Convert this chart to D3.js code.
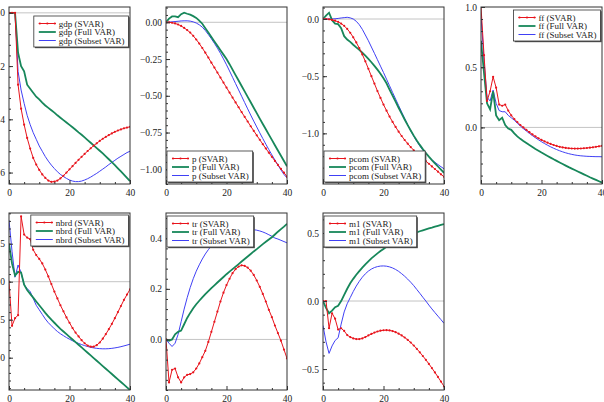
<!DOCTYPE html>
<html>
<head>
<meta charset="utf-8">
<script src="https://cdn.jsdelivr.net/npm/d3@7"></script>
<style>
body { margin: 0; background: #fff; }
svg { display: block; }
</style>
</head>
<body>
<div id="chart"></div>
<script>
// horizons 0..40
var horizons = [0,1,2,3,4,5,6,7,8,9,10,11,12,13,14,15,16,17,18,19,20,
	21,22,23,24,25,26,27,28,29,30,31,32,33,34,35,36,37,38,39,40];

var seriesNames = ["SVAR", "Full VAR", "Subset VAR"];

var gdpSvar = [0,0,0,-0.27,-0.36,-0.42,-0.47,-0.51,-0.545,-0.57,-0.59,-0.607,-0.62,-0.63,-0.635,-0.634,-0.63,-0.622,-0.612,-0.6,-0.588,-0.576,-0.564,-0.552,-0.541,-0.53,-0.519,-0.509,-0.499,-0.49,-0.481,-0.473,-0.466,-0.459,-0.453,-0.447,-0.442,-0.438,-0.434,-0.431,-0.428];
var gdpFull = [0,0,0,-0.15,-0.2,-0.22,-0.27,-0.285,-0.3,-0.315,-0.325,-0.337,-0.348,-0.357,-0.366,-0.375,-0.385,-0.394,-0.403,-0.412,-0.421,-0.43,-0.439,-0.449,-0.458,-0.468,-0.478,-0.488,-0.498,-0.508,-0.518,-0.528,-0.539,-0.55,-0.561,-0.572,-0.584,-0.596,-0.608,-0.62,-0.632];
var gdpSubset = [0,0,0,-0.22,-0.29,-0.34,-0.385,-0.42,-0.45,-0.475,-0.5,-0.52,-0.54,-0.557,-0.572,-0.585,-0.597,-0.607,-0.615,-0.622,-0.628,-0.632,-0.634,-0.634,-0.632,-0.628,-0.623,-0.617,-0.61,-0.603,-0.595,-0.587,-0.579,-0.57,-0.562,-0.554,-0.546,-0.539,-0.532,-0.525,-0.52];

var pSvar = [0,0,-0.003,-0.008,-0.015,-0.025,-0.038,-0.053,-0.07,-0.092,-0.117,-0.145,-0.175,-0.207,-0.24,-0.275,-0.308,-0.342,-0.376,-0.41,-0.444,-0.478,-0.512,-0.545,-0.578,-0.611,-0.643,-0.675,-0.707,-0.738,-0.769,-0.799,-0.829,-0.858,-0.887,-0.915,-0.943,-0.97,-0.997,-1.023,-1.05];
var pFull = [0,0.025,0.04,0.04,0.035,0.055,0.065,0.058,0.052,0.042,0.03,0.012,-0.01,-0.04,-0.07,-0.1,-0.13,-0.16,-0.19,-0.22,-0.25,-0.285,-0.322,-0.359,-0.396,-0.433,-0.47,-0.507,-0.544,-0.581,-0.618,-0.655,-0.692,-0.728,-0.764,-0.8,-0.836,-0.872,-0.908,-0.944,-0.98];
var pSubset = [0,0.001,0.003,0.005,0.007,0.009,0.01,0.01,0.008,0.003,-0.005,-0.017,-0.033,-0.056,-0.083,-0.112,-0.143,-0.176,-0.211,-0.249,-0.289,-0.331,-0.374,-0.417,-0.46,-0.503,-0.546,-0.589,-0.631,-0.672,-0.712,-0.752,-0.791,-0.829,-0.866,-0.902,-0.937,-0.971,-1.004,-1.035,-1.058];

var pcomSvar = [0,0,-0.003,-0.008,-0.015,-0.025,-0.04,-0.06,-0.087,-0.12,-0.16,-0.205,-0.255,-0.31,-0.37,-0.435,-0.5,-0.565,-0.63,-0.69,-0.748,-0.802,-0.853,-0.9,-0.944,-0.985,-1.023,-1.058,-1.09,-1.12,-1.148,-1.174,-1.198,-1.22,-1.243,-1.266,-1.289,-1.312,-1.335,-1.358,-1.38];
var pcomFull = [0,0.03,0.055,-0.01,-0.04,-0.045,-0.08,-0.15,-0.18,-0.2,-0.225,-0.248,-0.27,-0.295,-0.32,-0.348,-0.378,-0.41,-0.443,-0.478,-0.518,-0.562,-0.617,-0.67,-0.723,-0.776,-0.828,-0.879,-0.928,-0.975,-1.02,-1.062,-1.101,-1.138,-1.172,-1.204,-1.234,-1.262,-1.29,-1.318,-1.345];
var pcomSubset = [0,0,0,0,0.002,0.005,0.009,0.012,0.015,0.01,0,-0.02,-0.05,-0.09,-0.14,-0.19,-0.245,-0.3,-0.356,-0.412,-0.468,-0.526,-0.584,-0.642,-0.7,-0.757,-0.814,-0.87,-0.925,-0.977,-1.026,-1.07,-1.11,-1.146,-1.178,-1.206,-1.231,-1.253,-1.273,-1.292,-1.31];

var ffSvar = [1.0,0.6,0.22,0.3,0.42,0.33,0.19,0.18,0.19,0.14,0.1,0.07,0.045,0.02,0.0,-0.02,-0.04,-0.058,-0.075,-0.09,-0.104,-0.116,-0.127,-0.137,-0.146,-0.154,-0.161,-0.166,-0.17,-0.173,-0.175,-0.176,-0.176,-0.175,-0.173,-0.171,-0.168,-0.165,-0.161,-0.157,-0.153];
var ffFull = [0.72,0.45,0.2,0.15,0.3,0.1,0.06,0.08,0.02,-0.01,-0.02,-0.05,-0.075,-0.095,-0.113,-0.13,-0.147,-0.163,-0.179,-0.194,-0.209,-0.223,-0.237,-0.251,-0.265,-0.278,-0.291,-0.304,-0.317,-0.33,-0.342,-0.354,-0.366,-0.378,-0.39,-0.402,-0.414,-0.425,-0.436,-0.447,-0.458];
var ffSubset = [0.93,0.55,0.25,0.22,0.31,0.2,0.14,0.13,0.13,0.1,0.08,0.06,0.035,0.012,-0.01,-0.03,-0.05,-0.068,-0.086,-0.103,-0.119,-0.134,-0.148,-0.161,-0.173,-0.184,-0.194,-0.203,-0.211,-0.218,-0.224,-0.229,-0.233,-0.236,-0.238,-0.24,-0.241,-0.242,-0.243,-0.243,-0.244];

var nbrdSvar = [0,-0.58,-0.48,-0.44,0.86,0.62,0.58,0.56,0.42,0.35,0.3,0.24,0.16,0.07,-0.03,-0.13,-0.22,-0.31,-0.39,-0.47,-0.54,-0.61,-0.67,-0.72,-0.77,-0.81,-0.84,-0.855,-0.855,-0.835,-0.8,-0.75,-0.69,-0.625,-0.555,-0.48,-0.4,-0.32,-0.24,-0.17,-0.1];
var nbrdFull = [0.5,0.24,0.08,0.13,0.12,-0.04,-0.11,-0.16,-0.21,-0.26,-0.31,-0.36,-0.41,-0.455,-0.5,-0.54,-0.58,-0.62,-0.655,-0.69,-0.725,-0.76,-0.795,-0.83,-0.865,-0.9,-0.935,-0.97,-1.005,-1.04,-1.075,-1.11,-1.145,-1.18,-1.215,-1.25,-1.285,-1.32,-1.355,-1.39,-1.425];
var nbrdSubset = [0.81,0.4,0.06,0.22,0.12,-0.04,-0.09,-0.13,-0.22,-0.31,-0.37,-0.43,-0.49,-0.54,-0.58,-0.62,-0.655,-0.685,-0.71,-0.735,-0.757,-0.777,-0.795,-0.812,-0.827,-0.841,-0.853,-0.863,-0.871,-0.877,-0.881,-0.883,-0.883,-0.881,-0.877,-0.871,-0.864,-0.855,-0.845,-0.834,-0.822];

var trSvar = [0,-0.17,-0.12,-0.115,-0.15,-0.17,-0.15,-0.14,-0.137,-0.13,-0.115,-0.095,-0.07,-0.045,-0.01,0.03,0.07,0.11,0.15,0.185,0.215,0.24,0.262,0.278,0.288,0.293,0.291,0.284,0.272,0.255,0.233,0.208,0.18,0.15,0.117,0.088,0.055,0.025,-0.005,-0.04,-0.075];
var trFull = [0,-0.005,0.0,0.02,0.03,0.035,0.06,0.085,0.105,0.123,0.139,0.153,0.166,0.179,0.191,0.203,0.214,0.225,0.236,0.247,0.258,0.268,0.278,0.288,0.298,0.308,0.318,0.328,0.338,0.348,0.357,0.367,0.377,0.386,0.395,0.404,0.415,0.426,0.436,0.446,0.457];
var trSubset = [0,-0.015,-0.028,-0.015,0.02,0.07,0.12,0.165,0.205,0.24,0.27,0.295,0.318,0.338,0.355,0.37,0.383,0.394,0.403,0.411,0.418,0.424,0.429,0.432,0.434,0.435,0.436,0.436,0.435,0.434,0.432,0.429,0.425,0.42,0.414,0.408,0.401,0.397,0.392,0.387,0.382];

var m1Svar = [0,0,-0.2,-0.09,-0.13,-0.21,-0.2,-0.22,-0.25,-0.265,-0.275,-0.28,-0.28,-0.275,-0.265,-0.253,-0.242,-0.232,-0.224,-0.218,-0.215,-0.214,-0.216,-0.221,-0.229,-0.24,-0.253,-0.268,-0.285,-0.305,-0.327,-0.351,-0.377,-0.404,-0.432,-0.462,-0.493,-0.525,-0.558,-0.592,-0.627];
var m1Full = [0,-0.05,-0.09,-0.07,-0.045,-0.035,0.0,0.045,0.09,0.13,0.163,0.193,0.22,0.246,0.27,0.292,0.313,0.332,0.35,0.367,0.383,0.398,0.412,0.425,0.437,0.448,0.459,0.469,0.479,0.488,0.497,0.505,0.513,0.52,0.527,0.534,0.54,0.547,0.553,0.559,0.565];
var m1Subset = [-0.18,-0.3,-0.385,-0.33,-0.29,-0.27,-0.17,-0.08,-0.02,0.025,0.07,0.11,0.145,0.175,0.2,0.22,0.235,0.246,0.253,0.257,0.258,0.256,0.251,0.243,0.232,0.218,0.201,0.182,0.161,0.138,0.113,0.085,0.057,0.028,0.0,-0.03,-0.058,-0.085,-0.111,-0.137,-0.164];

var xTicks = [0, 20, 40];

var panels = [
	{ name: "gdp",  series: [gdpSvar, gdpFull, gdpSubset],    domain: [-0.643, 0.022], ticks: [0, -0.2, -0.4, -0.6], fmt: ".1f", legend: "tr", ly: 9 },
	{ name: "p",    series: [pSvar, pFull, pSubset],          domain: [-1.10, 0.104],  ticks: [0, -0.25, -0.5, -0.75, -1.0], fmt: ".2f", legend: "bl", ly: 1 },
	{ name: "pcom", series: [pcomSvar, pcomFull, pcomSubset], domain: [-1.443, 0.105], ticks: [0, -0.5, -1.0], fmt: ".1f", legend: "bl", ly: 1 },
	{ name: "ff",   series: [ffSvar, ffFull, ffSubset],       domain: [-0.47, 1.0],    ticks: [1.0, 0.5, 0], fmt: ".1f", legend: "tr", ly: 3 },
	{ name: "nbrd", series: [nbrdSvar, nbrdFull, nbrdSubset], domain: [-1.425, 0.904], ticks: [0.5, 0, -0.5, -1.0], fmt: ".1f", legend: "tr", ly: 2 },
	{ name: "tr",   series: [trSvar, trFull, trSubset],       domain: [-0.2, 0.5],     ticks: [0, 0.2, 0.4], fmt: ".1f", legend: "tl", ly: 3 },
	{ name: "m1",   series: [m1Svar, m1Full, m1Subset],       domain: [-0.654, 0.647], ticks: [0.5, 0, -0.5], fmt: ".1f", legend: "tl", ly: 3 }
];

var colors = ["#e8141c", "#17875a", "#4040f5"];
var widths = [1, 1.8, 1];
var font = "'Liberation Serif', 'Times New Roman', serif";

var colLeft = [9, 166, 323, 481],
	rowTop = [7, 213],
	pw = 121,
	ph = 177;

var svg = d3.select("#chart")
	.append("svg")
		.attr("width", 604)
		.attr("height", 402)
		.style("font-family", font);

panels.forEach(function(p, i) {
	var col = i % 4, row = Math.floor(i / 4);
	var g = svg.append("g")
		.attr("transform", "translate(" + colLeft[col] + "," + rowTop[row] + ")");

	var x = d3.scaleLinear().domain([0, 40]).range([0, pw]);
	var y = d3.scaleLinear().domain(p.domain).range([ph, 0]);

	g.append("clipPath").attr("id", "clip" + i)
		.append("rect").attr("width", pw).attr("height", ph);

	// zero line
	g.append("line")
		.attr("x1", 0).attr("x2", pw)
		.attr("y1", y(0)).attr("y2", y(0))
		.attr("stroke", "#c4c4c4");

	var plot = g.append("g").attr("clip-path", "url(#clip" + i + ")");
	var line = d3.line()
		.x(function(d, k) { return x(horizons[k]) })
		.y(function(d) { return y(d) });

	// draw subset first, then full, then svar on top
	[2, 1, 0].forEach(function(s) {
		plot.append("path")
			.datum(p.series[s])
			.attr("d", line)
			.attr("fill", "none")
			.attr("stroke", colors[s])
			.attr("stroke-width", widths[s]);
	});
	plot.selectAll("marks")
		.data(p.series[0])
		.enter()
		.append("circle")
			.attr("cx", function(d, k) { return x(horizons[k]) })
			.attr("cy", function(d) { return y(d) })
			.attr("r", 1.1)
			.attr("fill", colors[0]);

	// axes, ticks inside the frame
	var step = p.ticks.length > 1 ? Math.abs(p.ticks[1] - p.ticks[0]) : 0.5;
	var minor = [];
	for (var v = Math.ceil(p.domain[0] / (step / 5)) * (step / 5); v <= p.domain[1] + 1e-9; v += step / 5) minor.push(v);

	g.append("g")
		.call(d3.axisLeft(y).tickValues(minor).tickFormat("").tickSizeInner(-2).tickSizeOuter(0))
		.call(function(a) { a.select(".domain").remove() });
	g.append("g")
		.call(d3.axisLeft(y).tickValues(p.ticks).tickFormat(d3.format(p.fmt)).tickSizeInner(-4).tickSizeOuter(0).tickPadding(4))
		.call(function(a) { a.select(".domain").remove() });

	var xMinor = [5, 10, 15, 25, 30, 35];
	g.append("g")
		.attr("transform", "translate(0," + ph + ")")
		.call(d3.axisBottom(x).tickValues(xMinor).tickFormat("").tickSizeInner(-2).tickSizeOuter(0))
		.call(function(a) { a.select(".domain").remove() });
	g.append("g")
		.attr("transform", "translate(0," + ph + ")")
		.call(d3.axisBottom(x).tickValues(xTicks).tickFormat(d3.format("d")).tickSizeInner(-4).tickSizeOuter(0).tickPadding(5))
		.call(function(a) { a.select(".domain").remove() });

	g.selectAll(".tick line").attr("stroke", "#333");
	g.selectAll(".tick text")
		.attr("font-family", font)
		.attr("font-size", 9.5)
		.attr("fill", "#222");

	// legend
	var labels = seriesNames.map(function(n) { return p.name + " (" + n + ")" });
	var lg = g.append("g");
	var shadow = lg.append("rect").attr("fill", "#555");
	var box = lg.append("rect").attr("fill", "#fff").attr("stroke", "#333").attr("stroke-width", 0.8);
	var texts = lg.selectAll("ltext")
		.data(labels)
		.enter()
		.append("text")
			.attr("x", 25)
			.attr("y", function(d, k) { return 10.5 + k * 8.5 })
			.attr("font-size", 9)
			.attr("fill", "#222")
			.text(function(d) { return d });
	var tw = d3.max(texts.nodes(), function(n) { return n.getComputedTextLength() });
	var bw = 25 + tw + 4, bh = 31;
	box.attr("width", bw).attr("height", bh);
	shadow.attr("x", 1.2).attr("y", 1.2).attr("width", bw).attr("height", bh);

	labels.forEach(function(d, k) {
		var ly = 7.5 + k * 8.5;
		lg.append("line")
			.attr("x1", 5).attr("x2", 22)
			.attr("y1", ly).attr("y2", ly)
			.attr("stroke", colors[k])
			.attr("stroke-width", widths[k]);
		if (k == 0) {
			lg.selectAll("lmark")
				.data([6, 13.5, 21])
				.enter()
				.append("circle")
					.attr("cx", function(d) { return d })
					.attr("cy", ly)
					.attr("r", 1.1)
					.attr("fill", colors[0]);
		}
	});

	var lx, lyy;
	if (p.legend == "tr") { lx = pw - bw - 1.5; lyy = p.ly; }
	else if (p.legend == "tl") { lx = 1; lyy = p.ly; }
	else { lx = 1; lyy = ph - bh - p.ly - 1; }
	lg.attr("transform", "translate(" + lx + "," + lyy + ")");

	// frame
	g.append("rect")
		.attr("width", pw).attr("height", ph)
		.attr("fill", "none")
		.attr("stroke", "#333")
		.attr("stroke-width", 1);
});
</script>
</body>
</html>
